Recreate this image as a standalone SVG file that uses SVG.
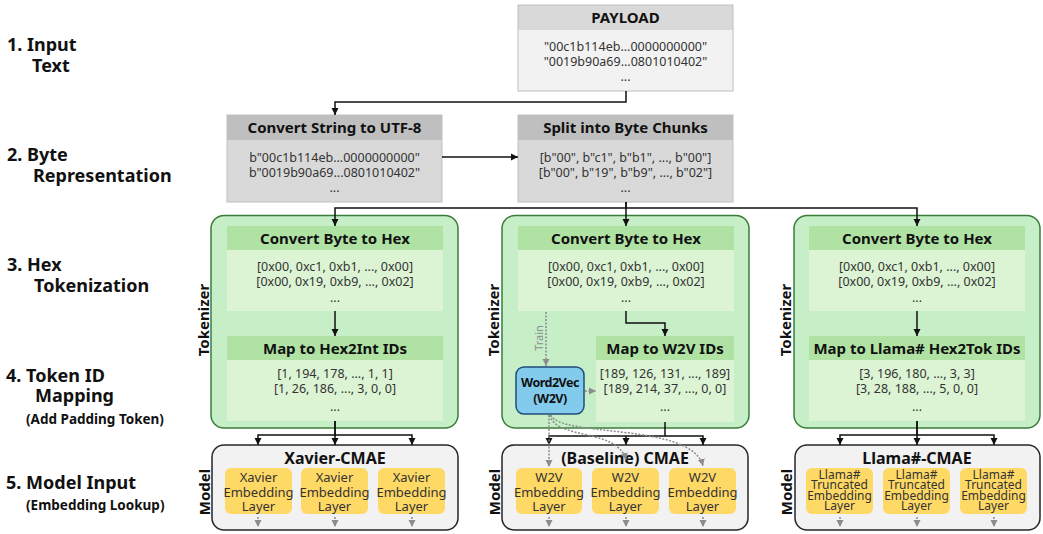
<svg xmlns="http://www.w3.org/2000/svg" width="1043" height="534" viewBox="0 0 1043 534">
<defs>
<marker id="ab" markerUnits="userSpaceOnUse" markerWidth="8" markerHeight="8" refX="7" refY="4" orient="auto"><path d="M0,0.5 L7,4 L0,7.5 z" fill="#111"/></marker>
<marker id="ag" markerUnits="userSpaceOnUse" markerWidth="8" markerHeight="8" refX="7" refY="4" orient="auto"><path d="M0,0.5 L7,4 L0,7.5 z" fill="#8c8c8c"/></marker>
</defs>
<style>
text{font-family:"Noto Sans","Open Sans","DejaVu Sans",sans-serif}
.step{font-size:18px;font-weight:bold;fill:#111}
.sub{font-size:13.5px;font-weight:bold;fill:#111}
.ttl{font-size:15px;font-weight:bold;fill:#111;text-anchor:middle}
.bd{font-size:12.5px;fill:#333;text-anchor:middle}
.side{font-size:15px;font-weight:bold;fill:#111;text-anchor:middle}
.mt{font-size:16px;font-weight:bold;fill:#111;text-anchor:middle}
.em{font-size:13px;fill:#333;text-anchor:middle}
.em4{font-size:12px;fill:#333;text-anchor:middle}
.hg1{fill:#d9d9d9}
.bg1{fill:#f2f2f2}
.hg2{fill:#bfbfbf}
.bg2{fill:#d9d9d9}
.box{fill:none;stroke:#bfbfbf;stroke-width:1}
.panel{fill:#c6efc8;stroke:#3a7d3a;stroke-width:1.5}
.ih{fill:#b0e2a4}
.ib{fill:#dcf4d4}
.model{fill:#f2f2f2;stroke:#262626;stroke-width:1.5}
.emb{fill:#ffd966}
.c{fill:none;stroke:#111;stroke-width:1.5}
.d{fill:none;stroke:#8c8c8c;stroke-width:1.5;stroke-dasharray:2,1.5}
</style>

<g id="step-labels">
<text class="step" x="7" y="51">1. Input</text>
<text class="step" x="32" y="72">Text</text>
<text class="step" x="7" y="161">2. Byte</text>
<text class="step" x="33" y="182">Representation</text>
<text class="step" x="7" y="271">3. Hex</text>
<text class="step" x="34" y="292">Tokenization</text>
<text class="step" x="6" y="382">4. Token ID</text>
<text class="step" x="35" y="402">Mapping</text>
<text class="sub" x="26" y="424">(Add Padding Token)</text>
<text class="step" x="6" y="489">5. Model Input</text>
<text class="sub" x="26" y="510">(Embedding Lookup)</text>
</g>

<g id="payload">
<rect class="hg1" x="518" y="5" width="215" height="25"/>
<rect class="bg1" x="518" y="30" width="215" height="61"/>
<rect class="box" x="518" y="5" width="215" height="86"/>
<text class="ttl" x="625.5" y="23">PAYLOAD</text>
<text class="bd" x="625.5" y="51">"00c1b114eb...0000000000"</text>
<text class="bd" x="625.5" y="66">"0019b90a69...0801010402"</text>
<text class="bd" x="625.5" y="81">...</text>
</g>

<g id="convert-utf8">
<rect class="hg2" x="227" y="115" width="215" height="25"/>
<rect class="bg2" x="227" y="140" width="215" height="62"/>
<rect class="box" x="227" y="115" width="215" height="87"/>
<text class="ttl" x="334.5" y="133">Convert String to UTF-8</text>
<text class="bd" x="334.5" y="162">b"00c1b114eb...0000000000"</text>
<text class="bd" x="334.5" y="177">b"0019b90a69...0801010402"</text>
<text class="bd" x="334.5" y="192">...</text>
</g>

<g id="split-chunks">
<rect class="hg2" x="518" y="115" width="215" height="25"/>
<rect class="bg2" x="518" y="140" width="215" height="62"/>
<rect class="box" x="518" y="115" width="215" height="87"/>
<text class="ttl" x="625.5" y="133">Split into Byte Chunks</text>
<text class="bd" x="625.5" y="162">[b"00", b"c1", b"b1", ..., b"00"]</text>
<text class="bd" x="625.5" y="177">[b"00", b"19", b"b9", ..., b"02"]</text>
<text class="bd" x="625.5" y="192">...</text>
</g>

<g id="tokenizer-hex2int">
<rect class="panel" x="211" y="215.5" width="247" height="212.5" rx="13"/>
<text class="side" transform="translate(209,320) rotate(-90)">Tokenizer</text>
<rect class="ih" x="227" y="226" width="216" height="24"/>
<rect class="ib" x="227" y="250" width="216" height="61"/>
<text class="ttl" x="335" y="244">Convert Byte to Hex</text>
<text class="bd" x="335" y="271">[0x00, 0xc1, 0xb1, ..., 0x00]</text>
<text class="bd" x="335" y="286">[0x00, 0x19, 0xb9, ..., 0x02]</text>
<text class="bd" x="335" y="302">...</text>
<rect class="ih" x="227" y="336" width="216" height="24"/>
<rect class="ib" x="227" y="360" width="216" height="61"/>
<text class="ttl" x="335" y="354">Map to Hex2Int IDs</text>
<text class="bd" x="335" y="378">[1, 194, 178, ..., 1, 1]</text>
<text class="bd" x="335" y="393">[1, 26, 186, ..., 3, 0, 0]</text>
<text class="bd" x="335" y="411">...</text>
</g>

<g id="tokenizer-w2v">
<rect class="panel" x="502" y="215.5" width="247" height="212.5" rx="13"/>
<text class="side" transform="translate(499,320) rotate(-90)">Tokenizer</text>
<rect class="ih" x="518" y="226" width="216" height="24"/>
<rect class="ib" x="518" y="250" width="216" height="61"/>
<text class="ttl" x="626" y="244">Convert Byte to Hex</text>
<text class="bd" x="626" y="271">[0x00, 0xc1, 0xb1, ..., 0x00]</text>
<text class="bd" x="626" y="286">[0x00, 0x19, 0xb9, ..., 0x02]</text>
<text class="bd" x="626" y="302">...</text>
<rect class="ih" x="596" y="336" width="138" height="24"/>
<rect class="ib" x="596" y="360" width="138" height="62"/>
<text class="ttl" x="665" y="354">Map to W2V IDs</text>
<text class="bd" x="665" y="378">[189, 126, 131, ..., 189]</text>
<text class="bd" x="665" y="393">[189, 214, 37, ..., 0, 0]</text>
<text class="bd" x="665" y="411">...</text>
</g>

<g id="word2vec">
<rect x="516" y="367" width="68" height="47" rx="8" fill="#82cbec" stroke="#1f4e79" stroke-width="1.5"/>
<text text-anchor="middle" font-size="12.5" font-weight="bold" fill="#111" letter-spacing="-0.5"><tspan x="550" y="387">Word2Vec</tspan><tspan x="550" y="403">(W2V)</tspan></text>
</g>

<g id="tokenizer-llama">
<rect class="panel" x="794" y="215.5" width="246" height="212.5" rx="13"/>
<text class="side" transform="translate(791,320) rotate(-90)">Tokenizer</text>
<rect class="ih" x="809" y="226" width="216" height="24"/>
<rect class="ib" x="809" y="250" width="216" height="61"/>
<text class="ttl" x="917" y="244">Convert Byte to Hex</text>
<text class="bd" x="917" y="271">[0x00, 0xc1, 0xb1, ..., 0x00]</text>
<text class="bd" x="917" y="286">[0x00, 0x19, 0xb9, ..., 0x02]</text>
<text class="bd" x="917" y="302">...</text>
<rect class="ih" x="809" y="336" width="216" height="24"/>
<rect class="ib" x="809" y="360" width="216" height="61"/>
<text class="ttl" x="917" y="354">Map to Llama# Hex2Tok IDs</text>
<text class="bd" x="917" y="378">[3, 196, 180, ..., 3, 3]</text>
<text class="bd" x="917" y="393">[3, 28, 188, ..., 5, 0, 0]</text>
<text class="bd" x="917" y="411">...</text>
</g>

<g id="model-xavier">
<rect class="model" x="212" y="445" width="246" height="85" rx="12"/>
<text class="side" transform="translate(210,492) rotate(-90)">Model</text>
<text class="mt" x="335" y="464">Xavier-CMAE</text>
<rect class="emb" x="225" y="468" width="67" height="46" rx="6"/>
<rect class="emb" x="301" y="468" width="67" height="46" rx="6"/>
<rect class="emb" x="378" y="468" width="67" height="46" rx="6"/>
<text class="em"><tspan x="258.5" y="482">Xavier</tspan><tspan x="258.5" y="497">Embedding</tspan><tspan x="258.5" y="511">Layer</tspan></text>
<text class="em"><tspan x="334.5" y="482">Xavier</tspan><tspan x="334.5" y="497">Embedding</tspan><tspan x="334.5" y="511">Layer</tspan></text>
<text class="em"><tspan x="411.5" y="482">Xavier</tspan><tspan x="411.5" y="497">Embedding</tspan><tspan x="411.5" y="511">Layer</tspan></text>
</g>

<g id="model-baseline">
<rect class="model" x="502" y="445" width="246" height="85" rx="12"/>
<text class="side" transform="translate(500,492) rotate(-90)">Model</text>
<text class="mt" x="625" y="464">(Baseline) CMAE</text>
<rect class="emb" x="516" y="468" width="66" height="46" rx="6"/>
<rect class="emb" x="592" y="468" width="67" height="46" rx="6"/>
<rect class="emb" x="669" y="468" width="67" height="46" rx="6"/>
<text class="em"><tspan x="549" y="482">W2V</tspan><tspan x="549" y="497">Embedding</tspan><tspan x="549" y="511">Layer</tspan></text>
<text class="em"><tspan x="625.5" y="482">W2V</tspan><tspan x="625.5" y="497">Embedding</tspan><tspan x="625.5" y="511">Layer</tspan></text>
<text class="em"><tspan x="702.5" y="482">W2V</tspan><tspan x="702.5" y="497">Embedding</tspan><tspan x="702.5" y="511">Layer</tspan></text>
</g>

<g id="model-llama">
<rect class="model" x="795" y="445" width="245" height="85" rx="12"/>
<text class="side" transform="translate(792,492) rotate(-90)">Model</text>
<text class="mt" x="917" y="464">Llama#-CMAE</text>
<rect class="emb" x="806" y="468" width="67" height="46" rx="6"/>
<rect class="emb" x="883" y="468" width="67" height="46" rx="6"/>
<rect class="emb" x="960" y="468" width="67" height="46" rx="6"/>
<text class="em4"><tspan x="839.5" y="478.5">Llama#</tspan><tspan x="839.5" y="489">Truncated</tspan><tspan x="839.5" y="499.5">Embedding</tspan><tspan x="839.5" y="510">Layer</tspan></text>
<text class="em4"><tspan x="916.5" y="478.5">Llama#</tspan><tspan x="916.5" y="489">Truncated</tspan><tspan x="916.5" y="499.5">Embedding</tspan><tspan x="916.5" y="510">Layer</tspan></text>
<text class="em4"><tspan x="993.5" y="478.5">Llama#</tspan><tspan x="993.5" y="489">Truncated</tspan><tspan x="993.5" y="499.5">Embedding</tspan><tspan x="993.5" y="510">Layer</tspan></text>
</g>

<g id="connectors">
<path class="c" d="M626,91 V102 H335 V115" marker-end="url(#ab)"/>
<path class="c" d="M442,157 H518" marker-end="url(#ab)"/>
<path class="c" d="M626,202 V208 H335 V226" marker-end="url(#ab)"/>
<path class="c" d="M626,202 V226" marker-end="url(#ab)"/>
<path class="c" d="M626,208 H917 V226" marker-end="url(#ab)"/>
<path class="c" d="M335,311 V336" marker-end="url(#ab)"/>
<path class="c" d="M917,311 V336" marker-end="url(#ab)"/>
<path class="c" d="M626,311 V323 H665 V336" marker-end="url(#ab)"/>
<path class="c" d="M335,421 V435 H258 V445" marker-end="url(#ab)"/>
<path class="c" d="M335,421 V445" marker-end="url(#ab)"/>
<path class="c" d="M335,435 H412 V445" marker-end="url(#ab)"/>
<path class="c" d="M665,422 V436 H549 V445" marker-end="url(#ab)"/>
<path class="c" d="M626,436 V445" marker-end="url(#ab)"/>
<path class="c" d="M665,436 H703 V445" marker-end="url(#ab)"/>
<path class="c" d="M917,421 V435 H840 V445" marker-end="url(#ab)"/>
<path class="c" d="M917,421 V445" marker-end="url(#ab)"/>
<path class="c" d="M917,435 H994 V445" marker-end="url(#ab)"/>
<path class="d" d="M546,312 V366" marker-end="url(#ag)"/>
<text transform="translate(543,338) rotate(-90)" text-anchor="middle" font-size="11" fill="#8c8c8c">Train</text>
<path class="d" d="M585,391 H596" marker-end="url(#ag)"/>
<path class="d" d="M549,415 V467" marker-end="url(#ag)"/>
<path class="d" d="M550,415 C555,440 618,428 626,460" marker-end="url(#ag)"/>
<path class="d" d="M551,415 C560,438 692,422 703,466" marker-end="url(#ag)"/>
<path class="d" d="M258,517 V527" marker-end="url(#ag)"/>
<path class="d" d="M335,517 V527" marker-end="url(#ag)"/>
<path class="d" d="M412,517 V527" marker-end="url(#ag)"/>
<path class="d" d="M549,517 V527" marker-end="url(#ag)"/>
<path class="d" d="M626,517 V527" marker-end="url(#ag)"/>
<path class="d" d="M703,517 V527" marker-end="url(#ag)"/>
<path class="d" d="M840,517 V527" marker-end="url(#ag)"/>
<path class="d" d="M917,517 V527" marker-end="url(#ag)"/>
<path class="d" d="M994,517 V527" marker-end="url(#ag)"/>
</g>
</svg>
